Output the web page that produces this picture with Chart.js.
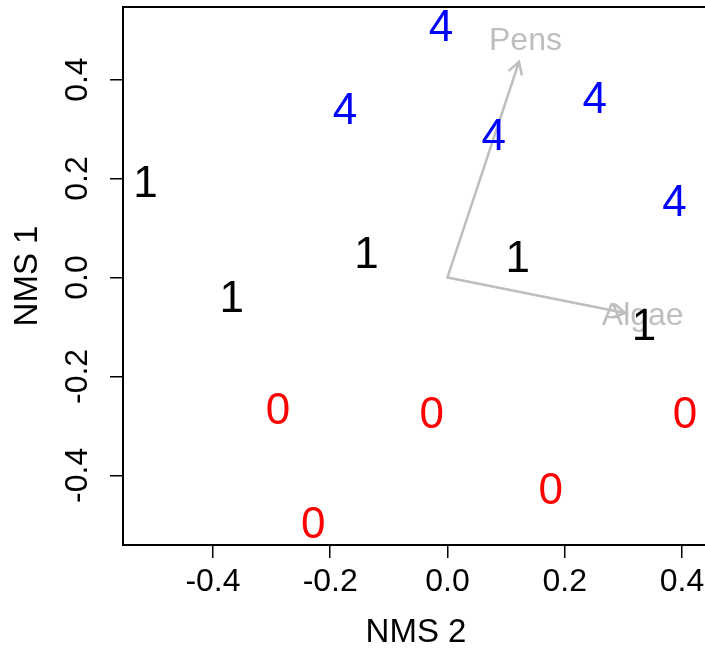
<!DOCTYPE html>
<html>
<head>
<meta charset="utf-8">
<script src="https://cdn.jsdelivr.net/npm/chart.js@4/dist/chart.umd.min.js"></script>
<style>
  html, body { margin: 0; padding: 0; background: #fff; overflow: hidden; }
  canvas { display: block; }
</style>
</head>
<body>
<canvas id="nms" width="712" height="652"></canvas>
<script>
// tick values
const xTicks = [-0.4, -0.2, 0.0, 0.2, 0.4];
const yTicks = [-0.4, -0.2, 0.0, 0.2, 0.4];

// site scores by group (NMS 2 on x, NMS 1 on y)
const group0X = [-0.289, -0.027, -0.229, 0.176, 0.405];
const group0Y = [-0.271, -0.279, -0.502, -0.434, -0.280];
const group1X = [-0.515, -0.368, -0.138, 0.120, 0.335];
const group1Y = [0.188, -0.046, 0.043, 0.035, -0.102];
const group4X = [-0.011, -0.175, 0.079, 0.251, 0.387];
const group4Y = [0.502, 0.334, 0.282, 0.356, 0.148];

// fitted vectors
const vectorNames = ["Pens", "Algae"];
const vectorX = [0.122, 0.303];
const vectorY = [0.436, -0.072];
const vectorLabelX = [0.133, 0.333];
const vectorLabelY = [0.478, -0.078];

const FONT = '"Liberation Sans", Arial, Helvetica, sans-serif';

const pts = (xs, ys) => xs.map((x, i) => ({ x: x, y: ys[i] }));
const fmt = (v) => (Math.abs(v) < 1e-9 ? 0 : v).toFixed(1);

const nmsPlugin = {
  id: "nms",
  afterDatasetsDraw(chart) {
    const ctx = chart.ctx;
    const xs = chart.scales.x;
    const ys = chart.scales.y;
    const a = chart.chartArea;

    ctx.save();
    // vectors
    const ox = xs.getPixelForValue(0);
    const oy = ys.getPixelForValue(0);
    ctx.strokeStyle = "#bebebe";
    ctx.lineWidth = 2.5;
    ctx.lineCap = "round";
    vectorNames.forEach((name, i) => {
      const tx = xs.getPixelForValue(vectorX[i]);
      const ty = ys.getPixelForValue(vectorY[i]);
      const ang = Math.atan2(ty - oy, tx - ox);
      const len = 13;
      ctx.beginPath();
      ctx.moveTo(ox, oy);
      ctx.lineTo(tx, ty);
      ctx.moveTo(tx - len * Math.cos(ang - Math.PI / 6), ty - len * Math.sin(ang - Math.PI / 6));
      ctx.lineTo(tx, ty);
      ctx.lineTo(tx - len * Math.cos(ang + Math.PI / 6), ty - len * Math.sin(ang + Math.PI / 6));
      ctx.stroke();
    });
    ctx.fillStyle = "#bebebe";
    ctx.font = "32px " + FONT;
    ctx.textAlign = "center";
    ctx.textBaseline = "middle";
    vectorNames.forEach((name, i) => {
      ctx.fillText(name, xs.getPixelForValue(vectorLabelX[i]), ys.getPixelForValue(vectorLabelY[i]));
    });

    // site labels
    ctx.font = "44px " + FONT;
    chart.data.datasets.forEach((ds, di) => {
      const meta = chart.getDatasetMeta(di);
      ctx.fillStyle = ds.textColor;
      meta.data.forEach((el) => {
        ctx.fillText(ds.label, el.x, el.y);
      });
    });

    // box
    ctx.strokeStyle = "#000";
    ctx.lineWidth = 2;
    ctx.lineCap = "butt";
    ctx.strokeRect(a.left, a.top, a.right - a.left, a.bottom - a.top);

    // tick labels
    ctx.fillStyle = "#000";
    ctx.font = "32px " + FONT;
    xTicks.forEach((v) => {
      ctx.fillText(fmt(v), xs.getPixelForValue(v), 582);
    });
    yTicks.forEach((v) => {
      ctx.save();
      ctx.translate(78, ys.getPixelForValue(v));
      ctx.rotate(-Math.PI / 2);
      ctx.fillText(fmt(v), 0, 0);
      ctx.restore();
    });

    // axis titles
    ctx.font = "33px " + FONT;
    ctx.fillText("NMS 2", (a.left + a.right) / 2, 633);
    ctx.save();
    ctx.translate(28, (a.top + a.bottom) / 2);
    ctx.rotate(-Math.PI / 2);
    ctx.fillText("NMS 1", 0, 0);
    ctx.restore();
    ctx.restore();
  }
};

new Chart(document.getElementById("nms"), {
  type: "scatter",
  data: {
    datasets: [
      { label: "0", data: pts(group0X, group0Y), textColor: "#ff0000" },
      { label: "1", data: pts(group1X, group1Y), textColor: "#000000" },
      { label: "4", data: pts(group4X, group4Y), textColor: "#0000ff" }
    ]
  },
  options: {
    responsive: false,
    animation: false,
    events: [],
    elements: { point: { radius: 0, hoverRadius: 0 } },
    layout: { padding: { top: 7, right: 3, left: 0, bottom: 0 } },
    plugins: { legend: { display: false }, tooltip: { enabled: false } },
    scales: {
      x: {
        type: "linear",
        min: -0.5534,
        max: 0.446,
        afterBuildTicks: (s) => { s.ticks = xTicks.map((v) => ({ value: v })); },
        afterFit: (s) => { s.height = 107; },
        ticks: { display: false },
        border: { display: false },
        grid: { drawOnChartArea: false, drawTicks: true, tickLength: 13, color: "#000", lineWidth: 1.5 }
      },
      y: {
        type: "linear",
        min: -0.5408,
        max: 0.5467,
        afterBuildTicks: (s) => { s.ticks = yTicks.map((v) => ({ value: v })); },
        afterFit: (s) => { s.width = 123; },
        ticks: { display: false },
        border: { display: false },
        grid: { drawOnChartArea: false, drawTicks: true, tickLength: 13, color: "#000", lineWidth: 1.5 }
      }
    }
  },
  plugins: [nmsPlugin]
});
</script>
</body>
</html>
